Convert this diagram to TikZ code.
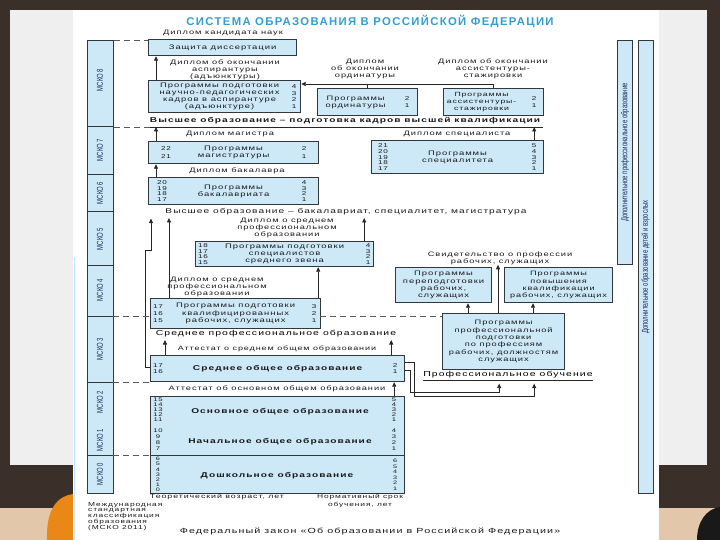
\documentclass[tikz,border=0pt]{standalone}
\usepackage{fontspec}
\setmainfont{Liberation Sans}
\newfontfamily\dgfont[FakeStretch=1.45, LetterSpace=15]{Liberation Sans}
\newfontfamily\narrowfont[FakeStretch=0.7]{Liberation Sans}
\newfontfamily\titlefont[LetterSpace=12]{Liberation Sans}
\usepackage{xcolor}
\usetikzlibrary{arrows.meta, positioning, calc}

\definecolor{slidedark}{RGB}{58,47,41}
\definecolor{slidegray}{RGB}{239,239,239}
\definecolor{slidetan}{RGB}{226,199,170}
\definecolor{blobor}{RGB}{233,136,22}
\definecolor{boxblue}{RGB}{205,232,247}
\definecolor{boxline}{RGB}{50,55,60}
\definecolor{titleblue}{RGB}{52,158,212}
\definecolor{iscoblue}{RGB}{28,40,95}
\definecolor{textgray}{RGB}{25,25,25}

\begin{document}
\begin{tikzpicture}[
    x=1pt,
    y=-1pt,
    >={Triangle[length=4.5pt, width=4pt]},
    prog/.style={
        rectangle,
        draw=boxline,
        fill=boxblue,
        line width=1.2pt,
        anchor=north west,
        inner sep=0pt,
        align=center,
        text=textgray,
        font=\dgfont\fontsize{6.5}{7.2}\selectfont
    },
    progtitle/.style={
        font=\dgfont\bfseries\fontsize{7}{7.5}\selectfont,
        text=textgray,
        inner sep=0pt
    },
    yrs/.style={
        font=\dgfont\fontsize{5.6}{5.6}\selectfont,
        align=center,
        inner sep=0pt,
        text=textgray
    },
    lbl/.style={
        font=\dgfont\fontsize{6.4}{7.2}\selectfont,
        align=center,
        inner sep=0pt,
        text=textgray
    },
    stage/.style={
        font=\dgfont\bfseries\fontsize{7}{7.5}\selectfont,
        inner sep=0pt,
        text=black!90
    },
    isco/.style={
        font=\narrowfont\fontsize{8.5}{8.5}\selectfont,
        rotate=90,
        inner sep=0pt,
        text=iscoblue
    },
    sidebar/.style={
        rectangle,
        draw=boxline,
        fill=boxblue,
        line width=1.2pt,
        anchor=north west,
        inner sep=0pt
    },
    arr/.style={
        ->,
        line width=0.8pt,
        draw=black!85
    },
    levelline/.style={
        line width=0.9pt,
        draw=black!85
    },
    isceddash/.style={
        dashed,
        dash pattern=on 6pt off 4pt,
        line width=0.9pt,
        draw=black!65
    }
]

% Slide background
\useasboundingbox (0,0) rectangle (720,540);
\fill[slidedark] (0,0) rectangle (720,540);
\fill[slidegray] (10,10) rectangle (707,465);
\fill[slidetan] (0,508) rectangle (720,540);
\fill[blobor] (73,494) .. controls (58,496) and (46,508) .. (47,540) -- (73,540) -- cycle;
\fill[black!90] (720,507) .. controls (706,509) and (697,522) .. (697,540) -- (720,540) -- cycle;
\fill[white] (73,10) rectangle (659,540);
\draw[cyan!25, line width=1pt] (74,257) -- (74,540);

% Title
\node[font=\titlefont\bfseries\fontsize{11.3}{11}\selectfont, text=titleblue] (title) at (370,22) {СИСТЕМА ОБРАЗОВАНИЯ В РОССИЙСКОЙ ФЕДЕРАЦИИ};

% ISCED column
\node[sidebar, minimum width=26pt, minimum height=453pt] (isced) at (87,40) {};
\draw[boxline, line width=1pt] (87,127) -- (113,127);
\draw[boxline, line width=1pt] (87,175) -- (113,175);
\draw[boxline, line width=1pt] (87,212) -- (113,212);
\draw[boxline, line width=1pt] (87,265) -- (113,265);
\draw[boxline, line width=1pt] (87,316) -- (113,316);
\draw[boxline, line width=1pt] (87,382) -- (113,382);
\draw[boxline, line width=1pt] (87,455) -- (113,455);
\node[isco] (m8) at (100,80) {МСКО 8};
\node[isco] (m7) at (100,150) {МСКО 7};
\node[isco] (m6) at (100,193) {МСКО 6};
\node[isco] (m5) at (100,239) {МСКО 5};
\node[isco] (m4) at (100,290) {МСКО 4};
\node[isco] (m3) at (100,349) {МСКО 3};
\node[isco] (m2) at (100,402) {МСКО 2};
\node[isco] (m1) at (100,440) {МСКО 1};
\node[isco] (m0) at (100,474) {МСКО 0};

% Top level: postgraduate
\node[lbl] (dkn) at (223,33) {Диплом кандидата наук};
\node[prog, minimum width=148pt, minimum height=16pt] (zash) at (148,39) {Защита диссертации};
\node[lbl] (dasp) at (225,70) {Диплом об окончании\\аспирантуры\\(адъюнктуры)};
\node[lbl] (dord) at (365,69) {Диплом\\об окончании\\ординатуры};
\node[lbl] (dass) at (493,69) {Диплом об окончании\\ассистентуры-\\стажировки};

\node[prog, minimum width=152pt, minimum height=32pt] (asp) at (148,80) {};
\node[lbl, font=\dgfont\fontsize{6.5}{6.8}\selectfont] (asp-t) at ([xshift=-5pt]asp.center) {Программы подготовки\\научно-педагогических\\кадров в аспирантуре\\(адъюнктуре)};
\node[yrs, font=\dgfont\fontsize{5.6}{6.8}\selectfont] (asp-r) at ([xshift=-7pt]asp.east) {4\\3\\2\\1};

\node[prog, minimum width=100pt, minimum height=27pt] (ord) at (317,88) {};
\node[lbl] (ord-t) at ([xshift=-12pt]ord.center) {Программы\\ординатуры};
\node[yrs, font=\dgfont\fontsize{5.6}{7}\selectfont] (ord-r) at ([xshift=-11pt]ord.east) {2\\1};

\node[prog, minimum width=100pt, minimum height=27pt] (ass) at (443,88) {};
\node[lbl, font=\dgfont\fontsize{6}{7}\selectfont] (ass-t) at ([xshift=-12pt]ass.center) {Программы\\ассистентуры-\\стажировки};
\node[yrs, font=\dgfont\fontsize{5.6}{7}\selectfont] (ass-r) at ([xshift=-10pt]ass.east) {2\\1};

\coordinate (aspin) at ([yshift=-4pt]asp.north east);
\draw[arr] ([xshift=8pt]asp.north west) -- ([xshift=8pt]asp.north west |- zash.south);
\draw[arr] (ass.north) |- (aspin);
\draw[line width=0.8pt, black!85] (ord.north) -- (ord.north |- aspin);

% Higher education levels
\node[stage] (vo1) at (345,121) {Высшее образование – подготовка кадров высшей квалификации};
\coordinate (h1) at (150,127);
\coordinate (h1e) at (543,127);
\draw[levelline] (h1) -- (h1e);

\node[lbl] (dmag) at (230,134) {Диплом магистра};
\node[lbl] (dspec) at (457,134) {Диплом специалиста};

\node[prog, minimum width=170pt, minimum height=22pt] (mag) at (148,141) {Программы\\магистратуры};
\node[yrs, font=\dgfont\fontsize{5.6}{8}\selectfont] (mag-l) at ([xshift=18pt]mag.west) {22\\21};
\node[yrs, font=\dgfont\fontsize{5.6}{8}\selectfont] (mag-r) at ([xshift=-15pt]mag.east) {2\\1};

\node[prog, minimum width=172pt, minimum height=33pt] (spec) at (371,140) {Программы\\специалитета};
\node[yrs] (spec-l) at ([xshift=12pt]spec.west) {21\\20\\19\\18\\17};
\node[yrs] (spec-r) at ([xshift=-10pt]spec.east) {5\\4\\3\\2\\1};

\node[lbl] (dbak) at (237,171) {Диплом бакалавра};

\node[prog, minimum width=170pt, minimum height=27pt] (bak) at (148,177) {Программы\\бакалавриата};
\node[yrs] (bak-l) at ([xshift=14pt]bak.west) {20\\19\\18\\17};
\node[yrs] (bak-r) at ([xshift=-15pt]bak.east) {4\\3\\2\\1};

\draw[arr] ([xshift=8pt]mag.north west) -- ([xshift=8pt]mag.north west |- h1);
\draw[arr] ([xshift=-10pt]spec.north east) -- ([xshift=-10pt]spec.north east |- h1);
\draw[arr] ([xshift=8pt]bak.north west) -- ([xshift=8pt]bak.north west |- mag.south);

\node[lbl, font=\dgfont\fontsize{7}{7.5}\selectfont] (vo2) at (346,212) {Высшее образование – бакалавриат, специалитет, магистратура};
\coordinate (h2) at (150,218);

% Secondary vocational education
\node[lbl] (dspo1) at (287,228) {Диплом о среднем\\профессиональном\\образовании};

\node[prog, minimum width=178pt, minimum height=25pt] (spz) at (195,241) {Программы подготовки\\специалистов\\среднего звена};
\node[yrs] (spz-l) at ([xshift=8pt]spz.west) {18\\17\\16\\15};
\node[yrs] (spz-r) at ([xshift=-6pt]spz.east) {4\\3\\2\\1};

\node[lbl] (dspo2) at (217,287) {Диплом о среднем\\профессиональном\\образовании};

\node[prog, minimum width=170pt, minimum height=30pt] (kval) at (150,298) {Программы подготовки\\квалифицированных\\рабочих, служащих};
\node[yrs, font=\dgfont\fontsize{5.6}{6.6}\selectfont] (kval-l) at ([xshift=8pt]kval.west) {17\\16\\15};
\node[yrs, font=\dgfont\fontsize{5.6}{6.6}\selectfont] (kval-r) at ([xshift=-7pt]kval.east) {3\\2\\1};

\node[lbl, font=\dgfont\fontsize{7.2}{7.5}\selectfont, text=black] (spo) at (276,334) {Среднее профессиональное образование};
\coordinate (h3) at (150,340);

\draw[arr] ([xshift=19pt]kval.north west) -- ([xshift=19pt]kval.north west |- h2);
\draw[arr] ([xshift=-3pt]kval.north east) -- ([xshift=-3pt]kval.north east |- spz.south);
\draw[arr] ([xshift=-10pt]spz.north east) -- ([xshift=-10pt]spz.north east |- h2);

% General education
\node[lbl, font=\dgfont\fontsize{6.2}{7}\selectfont] (att1) at (277,349) {Аттестат о среднем общем образовании};

\node[prog, minimum width=254pt, minimum height=26pt] (sred) at (150,355) {};
\node[progtitle] (sred-t) at (sred.center) {Среднее общее образование};
\node[yrs, font=\dgfont\fontsize{5.6}{6.5}\selectfont] (sred-l) at ([xshift=8pt]sred.west) {17\\16};
\node[yrs, font=\dgfont\fontsize{5.6}{6.5}\selectfont] (sred-r) at ([xshift=-10pt]sred.east) {2\\1};

\node[lbl] (att2) at (277,389) {Аттестат об основном общем образовании};

\node[prog, minimum width=254pt, minimum height=59pt] (osn) at (150,396) {};
\node[progtitle] (osn-t) at (280,412) {Основное общее образование};
\node[progtitle] (nach-t) at (280,442) {Начальное общее образование};
\node[yrs, font=\dgfont\fontsize{5.3}{5}\selectfont] (osn-l) at (158,410) {15\\14\\13\\12\\11};
\node[yrs, font=\dgfont\fontsize{5.3}{6}\selectfont] (nach-l) at (158,440) {10\\9\\8\\7};
\node[yrs, font=\dgfont\fontsize{5.3}{5}\selectfont] (osn-r) at (394,410) {5\\4\\3\\2\\1};
\node[yrs, font=\dgfont\fontsize{5.3}{6}\selectfont] (nach-r) at (394,440) {4\\3\\2\\1};

\node[prog, minimum width=254pt, minimum height=38pt] (dosh) at (150,455) {};
\node[progtitle] (dosh-t) at (277,476) {Дошкольное образование};
\node[yrs, font=\dgfont\fontsize{5}{5.2}\selectfont] (dosh-l) at ([xshift=8pt]dosh.west) {6\\5\\4\\3\\2\\1\\0};
\node[yrs, font=\dgfont\fontsize{5}{5.5}\selectfont] (dosh-r) at ([xshift=-10pt]dosh.east) {6\\5\\4\\3\\2\\1};

\draw[arr] ([yshift=1pt]sred.west) -- ++(-5,0) -- ++(0,-117) -- ++(6,0) -- ++(0,-32);
\draw[arr] ([xshift=15pt]sred.north west) -- ([xshift=15pt]sred.north west |- h3);
\draw[arr] ([xshift=-14pt]sred.north east) -- ([xshift=-14pt]sred.north east |- h3);
\draw[arr] ([xshift=-11pt]osn.north east) -- ([xshift=-11pt]osn.north east |- sred.south);

% Vocational training
\node[lbl] (svid) at (500,258) {Свидетельство о профессии\\рабочих, служащих};

\node[prog, minimum width=96pt, minimum height=35pt] (perep) at (395,267) {Программы\\переподготовки\\рабочих,\\служащих};
\node[prog, minimum width=108pt, minimum height=35pt, font=\dgfont\fontsize{6.3}{7.2}\selectfont] (povysh) at (504,267) {Программы\\повышения\\квалификации\\рабочих, служащих};

\node[prog, minimum width=122pt, minimum height=56pt, font=\dgfont\fontsize{6.4}{7.4}\selectfont] (ppp) at (442,313) {Программы\\профессиональной\\подготовки\\по профессиям\\рабочих, должностям\\служащих};

\node[lbl, font=\dgfont\fontsize{7.2}{7.5}\selectfont, text=black] (prof) at (508,375) {Профессиональное обучение};
\coordinate (h4) at (423,380);
\coordinate (h4e) at (593,380);
\draw[levelline] (h4) -- (h4e);

\draw[arr] ([xshift=26pt]ppp.north west) -- ([xshift=26pt]ppp.north west |- perep.south);
\draw[arr] ([xshift=56pt]ppp.north west) -- ([xshift=56pt]ppp.north west |- svid.south);
\draw[arr] ([xshift=91pt]ppp.north west) -- ([xshift=91pt]ppp.north west |- povysh.south);
\draw[arr] ([yshift=-2pt]sred.east) -- ++(5,0) -- ++(0,22) -- ++(89,0) -- ++(0,-9);
\draw[arr] ([yshift=6pt]sred.east) -- ++(9,0) -- ++(0,34) -- ++(120,0) -- ++(0,-13);

% Level boundaries
\draw[isceddash] (isced.north east) -- (isced.north east -| zash.west);
\draw[isceddash] (isced.east |- h1) -- (h1);
\draw[isceddash] (113,316) -- (150,316);
\draw[isceddash] (320,316) -- (442,316);
\draw[isceddash] (113,382) -- (150,382);
\draw[isceddash] (113,455) -- (150,455);

% Additional education bars
\node[sidebar, minimum width=15pt, minimum height=224pt] (dpo) at (617,40) {};
\node[isco] (dpo-t) at (dpo.center) {Дополнительное профессиональное образование};
\node[sidebar, minimum width=15pt, minimum height=453pt] (dod) at (638,40) {};
\node[isco] (dod-t) at (645.5,267) {Дополнительное образование детей и взрослых};

% Footer
\node[lbl, font=\dgfont\fontsize{6.1}{7}\selectfont] (age) at (217,497) {Теоретический возраст, лет};
\node[lbl, font=\dgfont\fontsize{5.8}{7.5}\selectfont] (norm) at (360,501) {Нормативный срок\\обучения, лет};
\node[lbl, font=\dgfont\fontsize{5.8}{5.8}\selectfont, align=left, anchor=north west] (mskonote) at (88,502) {Международная\\стандартная\\классификация\\образования\\(МСКО 2011)};
\node[lbl, font=\dgfont\fontsize{7.4}{7.5}\selectfont] (law) at (370,532) {Федеральный закон «Об образовании в Российской Федерации»};

\end{tikzpicture}
\end{document}
